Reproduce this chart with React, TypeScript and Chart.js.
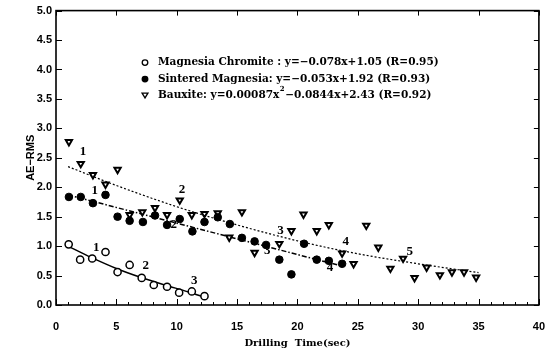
import React, { useEffect, useRef } from "react";
import { Chart, registerables } from "chart.js";

Chart.register(...registerables);

// ---------- data ----------
const chromiteX = [1.05, 2.0, 3.0, 4.1, 5.1, 6.1, 7.1, 8.1, 9.2, 10.2, 11.25, 12.3];
const chromiteY = [1.03, 0.77, 0.79, 0.9, 0.56, 0.68, 0.46, 0.34, 0.31, 0.21, 0.23, 0.15];

const sinteredX = [1.07, 2.05, 3.06, 4.1, 5.1, 6.1, 7.2, 8.2, 9.2, 10.25, 11.3, 12.3, 13.4, 14.4, 15.4, 16.45, 17.4, 18.5, 19.5, 20.55, 21.6, 22.6, 23.7];
const sinteredY = [1.835, 1.835, 1.73, 1.87, 1.5, 1.43, 1.41, 1.52, 1.36, 1.46, 1.25, 1.41, 1.49, 1.375, 1.14, 1.08, 1.02, 0.77, 0.52, 1.04, 0.77, 0.75, 0.7];

const bauxiteX = [1.07, 2.05, 3.06, 4.1, 5.1, 6.1, 7.15, 8.2, 9.2, 10.25, 11.25, 12.3, 13.4, 14.35, 15.4, 16.45, 18.5, 19.5, 20.5, 21.6, 22.6, 23.7, 24.65, 25.7, 26.7, 27.7, 28.75, 29.7, 30.7, 31.8, 32.8, 33.8, 34.8];
const bauxiteY = [2.77, 2.4, 2.21, 2.05, 2.3, 1.53, 1.58, 1.65, 1.53, 1.78, 1.53, 1.55, 1.56, 1.15, 1.58, 0.89, 1.04, 1.26, 1.54, 1.26, 1.36, 0.88, 0.7, 1.35, 0.98, 0.62, 0.79, 0.46, 0.64, 0.51, 0.56, 0.56, 0.47];

// fitted curves
const chromiteFitX = [1, 3, 5, 7, 9, 11, 12.3];
const chromiteFitY = [1.0, 0.8, 0.62, 0.47, 0.34, 0.22, 0.13];
const sinteredFitX = [1, 23.7];
const sinteredFitY = [1.87, 0.66];
const bauxiteFitX = [1, 5, 10, 15, 20, 25, 30, 35];
const bauxiteFitY = [2.35, 2.03, 1.67, 1.36, 1.09, 0.87, 0.7, 0.55];

// numeric annotations near the curves
const bauxiteNumX = [2.24, 10.43, 18.6, 24.0, 29.3];
const bauxiteNumY = [2.61, 1.96, 1.27, 1.07, 0.91];
const sinteredNumX = [3.2, 9.75, 17.5, 22.7];
const sinteredNumY = [1.95, 1.36, 0.93, 0.64];
const chromiteNumX = [3.34, 7.43, 11.45];
const chromiteNumY = [0.98, 0.67, 0.42];
const numTexts = ["1", "2", "3", "4", "5"];

const legendChromite = "Magnesia Chromite : y=\u22120.078x+1.05 (R=0.95)";
const legendSintered = "Sintered Magnesia: y=\u22120.053x+1.92 (R=0.93)";
const legendBauxiteA = "Bauxite: y=0.00087x";
const legendBauxiteSup = "2";
const legendBauxiteB = "\u22120.0844x+2.43 (R=0.92)";

const xTitle = "Drilling  Time(sec)";
const yTitle = "AE\u2212RMS";

const pts = (xs: number[], ys: number[]) => xs.map((x, i) => ({ x, y: ys[i] }));

function drawMarker(ctx: CanvasRenderingContext2D, style: string, r: number, cx: number, cy: number) {
  ctx.beginPath();
  if (style === "triangle") {
    ctx.moveTo(cx, cy + r);
    ctx.lineTo(cx - r * 1.05, cy - r * 0.7);
    ctx.lineTo(cx + r * 1.05, cy - r * 0.7);
    ctx.closePath();
  } else {
    ctx.arc(cx, cy, r, 0, Math.PI * 2);
  }
  ctx.fill();
  ctx.stroke();
}

const overlayPlugin = {
  id: "overlay",
  afterDraw(chart: any) {
    const { ctx, chartArea: a, scales } = chart;
    const x = scales.x;
    const y = scales.y;
    ctx.save();
    ctx.strokeStyle = "#000";
    // frame
    ctx.lineWidth = 1.6;
    ctx.strokeRect(a.left, a.top, a.right - a.left, a.bottom - a.top);
    // ticks (inward)
    ctx.lineWidth = 1;
    ctx.beginPath();
    for (let v = x.min; v <= x.max + 1e-9; v += 1) {
      const px = Math.round(x.getPixelForValue(v)) + 0.5;
      const major = Math.abs(v % 5) < 1e-9;
      ctx.moveTo(px, a.bottom);
      ctx.lineTo(px, a.bottom - (major ? 6 : 3));
      if (major) {
        ctx.moveTo(px, a.top);
        ctx.lineTo(px, a.top + 5);
      }
    }
    y.ticks.forEach((t: any) => {
      const py = Math.round(y.getPixelForValue(t.value)) + 0.5;
      ctx.moveTo(a.left, py);
      ctx.lineTo(a.left + 6, py);
      ctx.moveTo(a.right, py);
      ctx.lineTo(a.right - 5, py);
    });
    ctx.stroke();

    // number annotations
    ctx.fillStyle = "#000";
    ctx.font = "bold 13px 'Liberation Serif'";
    ctx.textAlign = "center";
    ctx.textBaseline = "middle";
    const drawNums = (xs: number[], ys: number[]) =>
      xs.forEach((v, i) => ctx.fillText(numTexts[i], x.getPixelForValue(v), y.getPixelForValue(ys[i])));
    drawNums(bauxiteNumX, bauxiteNumY);
    drawNums(sinteredNumX, sinteredNumY);
    drawNums(chromiteNumX, chromiteNumY);

    // legend
    const lx = a.left + 89;
    const tx = a.left + 102;
    const rows = [a.top + 52, a.top + 68.5, a.top + 84.5];
    const ds = chart.data.datasets;
    [0, 1, 2].forEach((k) => {
      const d = ds[k];
      ctx.fillStyle = d.backgroundColor;
      ctx.strokeStyle = d.borderColor;
      ctx.lineWidth = 1.3;
      drawMarker(ctx, d.pointStyle, 2.8, lx, rows[k]);
    });
    ctx.fillStyle = "#000";
    ctx.textAlign = "left";
    ctx.textBaseline = "middle";
    const font = "bold 10.5px 'DejaVu Serif'";
    ctx.font = font;
    ctx.fillText(legendChromite, tx, rows[0]);
    ctx.fillText(legendSintered, tx, rows[1]);
    ctx.fillText(legendBauxiteA, tx, rows[2]);
    const wA = ctx.measureText(legendBauxiteA).width;
    ctx.font = "bold 7px 'DejaVu Serif'";
    ctx.fillText(legendBauxiteSup, tx + wA + 0.5, rows[2] - 6);
    const wS = ctx.measureText(legendBauxiteSup).width;
    ctx.font = font;
    ctx.fillText(legendBauxiteB, tx + wA + wS + 1, rows[2]);
    ctx.restore();
  },
};

export default function App() {
  const ref = useRef<HTMLCanvasElement>(null);
  useEffect(() => {
    const tickFont = { family: "'Liberation Sans', Arial, sans-serif", size: 11, weight: "bold" as const };
    const chart = new Chart(ref.current as HTMLCanvasElement, {
      type: "scatter",
      data: {
        datasets: [
          {
            label: "Magnesia Chromite",
            data: pts(chromiteX, chromiteY),
            pointStyle: "circle",
            pointRadius: 3.6,
            borderColor: "#000",
            backgroundColor: "#fff",
            borderWidth: 1.5,
            showLine: false,
          },
          {
            label: "Sintered Magnesia",
            data: pts(sinteredX, sinteredY),
            pointStyle: "circle",
            pointRadius: 3.8,
            borderColor: "#000",
            backgroundColor: "#000",
            borderWidth: 1,
            showLine: false,
          },
          {
            label: "Bauxite",
            data: pts(bauxiteX, bauxiteY),
            pointStyle: "triangle",
            rotation: 180,
            pointRadius: 3.6,
            borderColor: "#000",
            backgroundColor: "#fff",
            borderWidth: 2,
            showLine: false,
          } as any,
          {
            label: "fit chromite",
            data: pts(chromiteFitX, chromiteFitY),
            showLine: true,
            pointRadius: 0,
            borderColor: "#000",
            borderWidth: 1.5,
            cubicInterpolationMode: "monotone",
          },
          {
            label: "fit sintered",
            data: pts(sinteredFitX, sinteredFitY),
            showLine: true,
            pointRadius: 0,
            borderColor: "#000",
            borderWidth: 1.5,
            borderDash: [5, 2, 1.5, 2],
          },
          {
            label: "fit bauxite",
            data: pts(bauxiteFitX, bauxiteFitY),
            showLine: true,
            pointRadius: 0,
            borderColor: "#000",
            borderWidth: 1.2,
            borderDash: [2, 2],
            cubicInterpolationMode: "monotone",
          },
        ],
      },
      options: {
        animation: false,
        responsive: true,
        maintainAspectRatio: false,
        layout: { padding: { top: 8, right: 15, left: 0, bottom: 0 } },
        plugins: { legend: { display: false }, tooltip: { enabled: false } },
        scales: {
          x: {
            type: "linear",
            min: 0,
            max: 40,
            grid: { display: false, drawTicks: false },
            border: { display: false },
            ticks: { stepSize: 5, color: "#000", font: tickFont, padding: 15, maxRotation: 0 },
            title: {
              display: true,
              text: xTitle,
              color: "#000",
              font: { family: "'DejaVu Serif', serif", size: 10, weight: "bold" },
              padding: { top: 0, bottom: 4 },
            },
            afterFit: (s: any) => {
              s.height = 48;
            },
          },
          y: {
            type: "linear",
            min: 0,
            max: 5,
            grid: { display: false, drawTicks: false },
            border: { display: false },
            ticks: {
              stepSize: 0.5,
              color: "#000",
              font: tickFont,
              padding: 4,
              callback: (v: any) => Number(v).toFixed(1),
            },
            title: {
              display: true,
              text: yTitle,
              color: "#000",
              font: { family: "'Liberation Sans', Arial, sans-serif", size: 11, weight: "bold" },
              padding: { top: 24, bottom: 0 },
            },
            afterFit: (s: any) => {
              s.width = 56;
            },
          },
        },
      },
      plugins: [overlayPlugin],
    });
    return () => chart.destroy();
  }, []);
  return (
    <div style={{ position: "fixed", left: 0, top: 0, width: 560, height: 353, background: "#fff" }}>
      <canvas ref={ref} />
    </div>
  );
}
